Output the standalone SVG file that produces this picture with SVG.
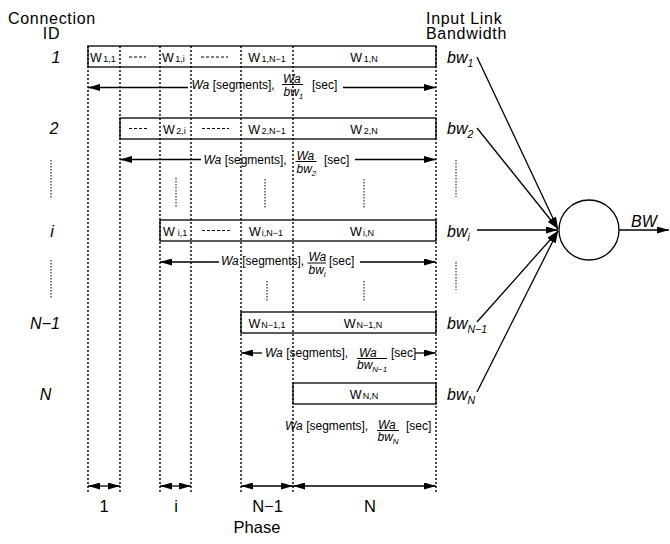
<svg xmlns="http://www.w3.org/2000/svg" width="670" height="544" viewBox="0 0 670 544">
<defs>
<marker id="ah" viewBox="0 0 12 7" refX="12" refY="3.5" markerWidth="12" markerHeight="7" markerUnits="userSpaceOnUse" orient="auto-start-reverse">
<path d="M0,0 L12,3.5 L0,7 z" fill="#000"/>
</marker>
</defs>
<style>
text { font-family: "Liberation Sans", Arial, sans-serif; fill: #000; }
.h { font-size: 16px; letter-spacing: 0.7px; }
.id { font-size: 16px; font-style: italic; }
.bw { font-size: 16px; font-style: italic; }
.bws { font-size: 10.5px; font-style: italic; }
.c { font-size: 12.5px; }
.cs { font-size: 9px; }
.a { font-size: 12px; }
.i { font-style: italic; }
.fs { font-size: 8px; font-style: italic; }
.ph { font-size: 16.5px; }
.box { fill: none; stroke: #000; stroke-width: 1.3; }
.vd { stroke: #000; stroke-width: 1.4; stroke-dasharray: 2 2; fill: none; }
.el { stroke: #000; stroke-width: 1; stroke-dasharray: 1.5 1.5; fill: none; }
.cd { stroke: #000; stroke-width: 1; stroke-dasharray: 3 2; fill: none; }
.ar { stroke: #000; stroke-width: 1.3; fill: none; }
.fl { stroke: #000; stroke-width: 1; }
</style>

<g id="headers">
<text class="h" x="52" y="23.5" text-anchor="middle">Connection</text>
<text class="h" x="51.5" y="39" text-anchor="middle">ID</text>
<text class="h" x="426" y="23.5">Input Link</text>
<text class="h" x="426" y="39">Bandwidth</text>
</g>

<g id="grid">
<line class="vd" x1="88" y1="46" x2="88" y2="493"/>
<line class="vd" x1="120" y1="46" x2="120" y2="493"/>
<line class="vd" x1="160" y1="46" x2="160" y2="493"/>
<line class="vd" x1="191" y1="46" x2="191" y2="493"/>
<line class="vd" x1="241" y1="46" x2="241" y2="493"/>
<line class="vd" x1="293" y1="46" x2="293" y2="493"/>
<line class="vd" x1="436" y1="46" x2="436" y2="493"/>
</g>

<g id="row1">
<text class="id" x="56" y="63" text-anchor="middle">1</text>
<rect class="box" x="88" y="46" width="348" height="21"/>
<text class="c" x="90" y="62">W<tspan class="cs" dx="1.5">1,1</tspan></text>
<line class="cd" x1="129" y1="57" x2="146" y2="57"/>
<text class="c" x="162" y="62">W<tspan class="cs" dx="1.5">1,i</tspan></text>
<line class="cd" x1="201" y1="57" x2="228" y2="57"/>
<text class="c" x="267" y="62" text-anchor="middle">W<tspan class="cs" dx="1.5">1,N−1</tspan></text>
<text class="c" x="364" y="62" text-anchor="middle">W<tspan class="cs" dx="1.5">1,N</tspan></text>
<text class="bw" x="447" y="63">bw<tspan class="bws" dy="4">1</tspan></text>
</g>

<g id="row2">
<text class="id" x="54" y="134" text-anchor="middle">2</text>
<rect class="box" x="120" y="118" width="316" height="21"/>
<line class="cd" x1="129" y1="128.5" x2="148" y2="128.5"/>
<text class="c" x="163" y="134">W<tspan class="cs" dx="1.5">2,i</tspan></text>
<line class="cd" x1="202" y1="128.5" x2="229" y2="128.5"/>
<text class="c" x="267" y="134" text-anchor="middle">W<tspan class="cs" dx="1.5">2,N−1</tspan></text>
<text class="c" x="364" y="134" text-anchor="middle">W<tspan class="cs" dx="1.5">2,N</tspan></text>
<text class="bw" x="447" y="134">bw<tspan class="bws" dy="4">2</tspan></text>
</g>

<g id="rowi">
<text class="id" x="52" y="236.5" text-anchor="middle">i</text>
<rect class="box" x="160" y="220" width="276" height="21"/>
<text class="c" x="163" y="236">W<tspan class="cs" dx="3">i,1</tspan></text>
<line class="cd" x1="202" y1="230.5" x2="230" y2="230.5"/>
<text class="c" x="266" y="236" text-anchor="middle">W<tspan class="cs" dx="1">i,N−1</tspan></text>
<text class="c" x="362" y="236" text-anchor="middle">W<tspan class="cs" dx="1">i,N</tspan></text>
<text class="bw" x="447" y="236.5">bw<tspan class="bws" dy="4">i</tspan></text>
</g>

<g id="rowN1">
<text class="id" x="45" y="328.5" text-anchor="middle">N−1</text>
<rect class="box" x="241" y="312" width="195" height="21"/>
<text class="c" x="267" y="328" text-anchor="middle">W<tspan class="cs" dx="1">N−1,1</tspan></text>
<text class="c" x="363" y="328" text-anchor="middle">W<tspan class="cs" dx="1">N−1,N</tspan></text>
<text class="bw" x="447" y="329">bw<tspan class="bws" dy="4">N−1</tspan></text>
</g>

<g id="rowN">
<text class="id" x="45.5" y="400" text-anchor="middle">N</text>
<rect class="box" x="293" y="383" width="143" height="21"/>
<text class="c" x="364" y="399" text-anchor="middle">W<tspan class="cs" dx="1">N,N</tspan></text>
<text class="bw" x="447" y="400">bw<tspan class="bws" dy="4">N</tspan></text>
</g>

<g id="ellipses">
<line class="el" x1="51" y1="160" x2="51" y2="198"/>
<line class="el" x1="51" y1="260" x2="51" y2="298"/>
<line class="el" x1="456" y1="160" x2="456" y2="197"/>
<line class="el" x1="456" y1="262" x2="456" y2="290"/>
<line class="el" x1="176" y1="178" x2="176" y2="207"/>
<line class="el" x1="265" y1="179" x2="265" y2="208"/>
<line class="el" x1="364" y1="179" x2="364" y2="208"/>
<line class="el" x1="267" y1="281" x2="267" y2="301"/>
<line class="el" x1="364" y1="281" x2="364" y2="301"/>
</g>

<g id="durations">
<!-- row 1 -->
<text class="a" x="191.5" y="89"><tspan class="i">Wa</tspan> [segments],</text>
<text class="a i" x="283" y="83">Wa</text>
<line class="fl" x1="282" y1="84.5" x2="303" y2="84.5"/>
<text class="a i" x="283.5" y="95.5">bw<tspan class="fs" dy="3">1</tspan></text>
<text class="a" x="312" y="89">[sec]</text>
<!-- row 2 -->
<text class="a" x="203.5" y="164"><tspan class="i">Wa</tspan> [segments],</text>
<text class="a i" x="296.5" y="159.5">Wa</text>
<line class="fl" x1="295.5" y1="161.5" x2="316.5" y2="161.5"/>
<text class="a i" x="296.5" y="172.5">bw<tspan class="fs" dy="3">2</tspan></text>
<text class="a" x="324" y="164">[sec]</text>
<!-- row i -->
<text class="a" x="221" y="265"><tspan class="i">Wa</tspan> [segments],</text>
<text class="a i" x="308.5" y="261">Wa</text>
<line class="fl" x1="307.5" y1="263" x2="326" y2="263"/>
<text class="a i" x="308.5" y="274">bw<tspan class="fs" dy="3">i</tspan></text>
<text class="a" x="329" y="265">[sec]</text>
<!-- row N-1 -->
<text class="a" x="265" y="357"><tspan class="i">Wa</tspan> [segments],</text>
<text class="a i" x="359" y="356.5">Wa</text>
<line class="fl" x1="357" y1="358.5" x2="387" y2="358.5"/>
<text class="a i" x="357" y="369">bw<tspan class="fs" dy="3">N−1</tspan></text>
<text class="a" x="391" y="357">[sec]</text>
<!-- row N -->
<text class="a" x="285" y="430"><tspan class="i">Wa</tspan> [segments],</text>
<text class="a i" x="378" y="428.5">Wa</text>
<line class="fl" x1="377" y1="430.5" x2="399" y2="430.5"/>
<text class="a i" x="377.5" y="441">bw<tspan class="fs" dy="3">N</tspan></text>
<text class="a" x="406" y="430">[sec]</text>
</g>

<g id="node-BW">
<circle cx="589" cy="230" r="30" fill="none" stroke="#000" stroke-width="1.3"/>
<text class="bw" x="631" y="226.5">BW</text>
</g>

<g id="connectors">
<line class="ar" x1="188" y1="87.5" x2="88" y2="87.5" marker-end="url(#ah)"/>
<line class="ar" x1="343" y1="87.5" x2="436" y2="87.5" marker-end="url(#ah)"/>
<line class="ar" x1="201" y1="159.5" x2="120" y2="159.5" marker-end="url(#ah)"/>
<line class="ar" x1="355" y1="159.5" x2="436" y2="159.5" marker-end="url(#ah)"/>
<line class="ar" x1="219" y1="262" x2="160" y2="262" marker-end="url(#ah)"/>
<line class="ar" x1="360" y1="262" x2="436" y2="262" marker-end="url(#ah)"/>
<line class="ar" x1="262" y1="353" x2="241" y2="353" marker-end="url(#ah)"/>
<line class="ar" x1="415" y1="353" x2="436" y2="353" marker-end="url(#ah)"/>

<line class="ar" x1="88" y1="486" x2="120" y2="486" marker-start="url(#ah)" marker-end="url(#ah)"/>
<line class="ar" x1="160" y1="486" x2="191" y2="486" marker-start="url(#ah)" marker-end="url(#ah)"/>
<line class="ar" x1="241" y1="486" x2="293" y2="486" marker-start="url(#ah)" marker-end="url(#ah)"/>
<line class="ar" x1="293" y1="486" x2="436" y2="486" marker-start="url(#ah)" marker-end="url(#ah)"/>

<line class="ar" x1="477" y1="57" x2="558" y2="229" marker-end="url(#ah)"/>
<line class="ar" x1="477" y1="128" x2="558" y2="229" marker-end="url(#ah)"/>
<line class="ar" x1="477" y1="230" x2="558" y2="230" marker-end="url(#ah)"/>
<line class="ar" x1="477" y1="322" x2="558" y2="231" marker-end="url(#ah)"/>
<line class="ar" x1="477" y1="392" x2="558" y2="231" marker-end="url(#ah)"/>
<line class="ar" x1="619" y1="230" x2="669" y2="230" marker-end="url(#ah)"/>
</g>

<g id="phase-labels">
<text class="ph" x="104" y="512" text-anchor="middle">1</text>
<text class="ph" x="176" y="512" text-anchor="middle">i</text>
<text class="ph" x="267.5" y="512" text-anchor="middle">N−1</text>
<text class="ph" x="370" y="512" text-anchor="middle">N</text>
<text class="ph" x="257" y="533" text-anchor="middle">Phase</text>
</g>
</svg>
